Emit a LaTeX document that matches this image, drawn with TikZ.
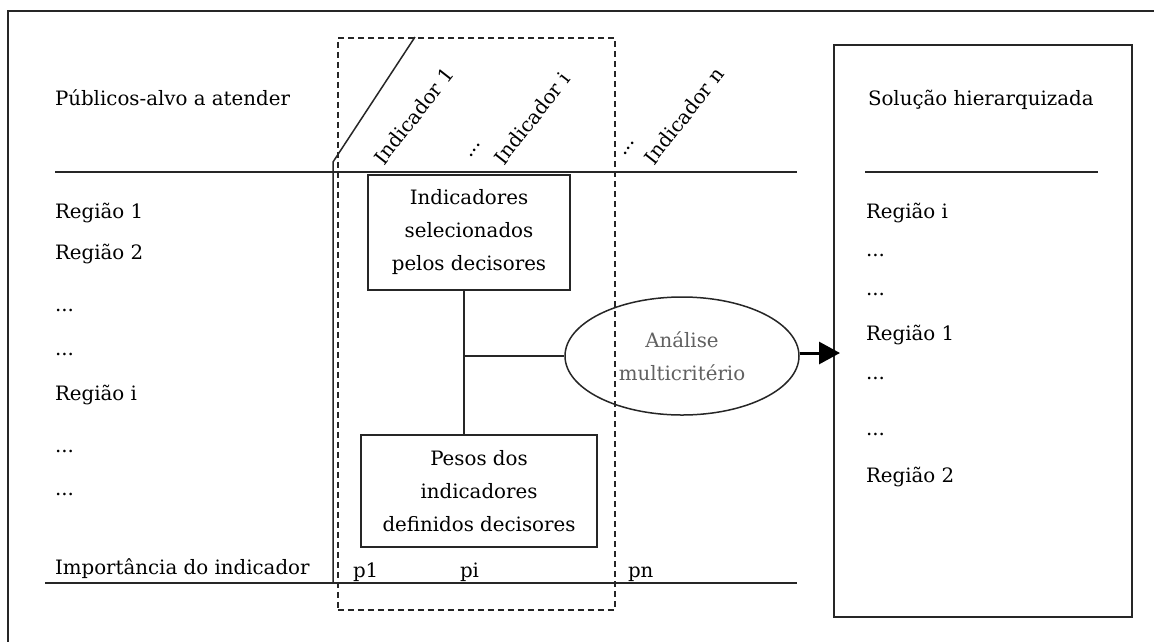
\documentclass[tikz,border=0pt]{standalone}
\usepackage{fontspec}
\setmainfont{DejaVu Serif}
\usetikzlibrary{shapes.geometric,arrows.meta,calc}
\begin{document}
\begin{tikzpicture}[x=1pt,y=-1pt,
  every node/.style={font=\fontsize{19.8}{33}\selectfont, text=black},
  lbl/.style={anchor=base west, inner sep=0, outer sep=0},
  rot/.style={anchor=base west, inner sep=0, outer sep=0, rotate=52},
  boxnode/.style={draw=black!85, line width=1.5pt, align=center, inner sep=0},
  rule/.style={draw=black!85, line width=1.5pt},
  dashbox/.style={draw=black!85, line width=1.5pt, dashed, dash pattern=on 6pt off 4pt, inner sep=0, minimum width=277, minimum height=572, anchor=north west},
  arrowline/.style={draw=black, line width=3pt, -{Triangle[length=21pt,width=22pt]}}]
\useasboundingbox (0,0) rectangle (1154,641);
\clip (0,0) rectangle (1154,641);
\fill[white] (0,0) rectangle (1154,641);
% outer frame
\draw[rule, line width=1.8pt] (8,11) rectangle (1175,665);
% dashed frame
\node[dashbox] (dbox) at (337,37) {};
% solution box
\node[boxnode, minimum width=298, minimum height=572, anchor=north west] (rbox) at (833,44) {};
% rules
\coordinate (tl) at (55,172);
\coordinate (tr) at (797,172);
\coordinate (bl) at (45,583);
\coordinate (br) at (797,583);
\draw[rule] (tl) -- (tr);
\draw[rule] (bl) -- (br);
\coordinate (rl) at (865,172);
\coordinate (rr) at (1098,172);
\draw[rule] (rl) -- (rr);
\coordinate (s0) at (333,583);
\coordinate (s1) at (333,162);
\coordinate (s2) at (415,37);
\draw[rule] (s0) -- (s1) -- (s2);
% left header and rows
\node[lbl] (pub) at (55,105) {Públicos-alvo a atender};
\node[lbl] (r1) at (55,218) {Região 1};
\node[lbl] (r2) at (55,259) {Região 2};
\node[lbl] (d1) at (55,311) {...};
\node[lbl] (d2) at (55,355) {...};
\node[lbl] (ri) at (55,400) {Região i};
\node[lbl] (d3) at (55,452) {...};
\node[lbl] (d4) at (55,495) {...};
\node[lbl] (imp) at (55,574) {Importância do indicador};
% indicator headers
\node[rot] (ind1) at (384,166) {Indicador 1};
\node[rot] (dd1) at (470,158) {...};
\node[rot] (indi) at (504,166) {Indicador i};
\node[rot] (dd2) at (624,156) {...};
\node[rot] (indn) at (654,166) {Indicador n};
% weights
\node[lbl] (p1) at (353,577) {p1};
\node[lbl] (pi) at (460,577) {pi};
\node[lbl] (pn) at (628,577) {pn};
% boxes
\node[boxnode, minimum width=202, minimum height=115] (box1) at (469,232.5) {Indicadores\\selecionados\\pelos decisores};
\node[boxnode, minimum width=236, minimum height=112] (box2) at (479,491) {Pesos dos\\indicadores\\definidos decisores};
\node[boxnode, ellipse, minimum width=234, minimum height=118, text=black!62] (ell) at (682,356) {Análise\\multicritério};
% connectors
\coordinate (j) at (464,356);
\draw[rule] (box1.south -| j) -- (box2.north -| j);
\draw[rule] (j) -- (ell.west);
\draw[arrowline] ($(ell.east)+(0,-3)$) -- ($(rbox.west |- ell.east)+(7,-3)$);
% solution column
\node[lbl] (sol) at (868,105) {Solução hierarquizada};
\node[lbl] (si) at (866,218) {Região i};
\node[lbl] (sd1) at (866,256) {...};
\node[lbl] (sd2) at (866,295) {...};
\node[lbl] (s1r) at (866,340) {Região 1};
\node[lbl] (sd3) at (866,379) {...};
\node[lbl] (sd4) at (866,435) {...};
\node[lbl] (s2r) at (866,482) {Região 2};
\end{tikzpicture}
\end{document}
